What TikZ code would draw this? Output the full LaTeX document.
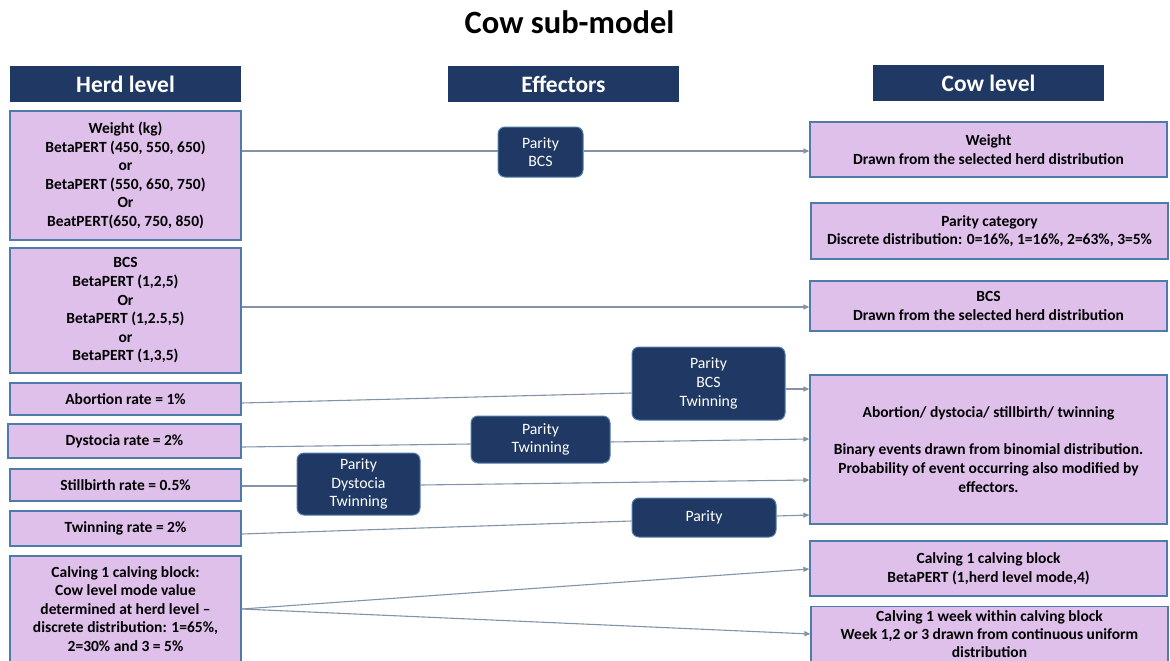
\documentclass[tikz,border=0pt]{standalone}
\usepackage{fontspec}
\setmainfont{Carlito}
\usetikzlibrary{arrows.meta}
\definecolor{navy}{HTML}{203864}
\definecolor{lilac}{HTML}{DEC0EB}
\definecolor{bordc}{HTML}{4F7BAA}
\definecolor{linec}{HTML}{8393A8}
\tikzset{
  hdr/.style={fill=navy, draw=none, text=white, font=\bfseries\fontsize{23.5}{26}\selectfont, inner sep=0pt, minimum width=231pt, minimum height=36pt},
  box/.style={fill=lilac, draw=bordc, line width=1.3pt, align=center, inner sep=0pt, font=\bfseries\fontsize{15.5}{18.6}\selectfont},
  eff/.style={fill=navy, draw=bordc, line width=1pt, rounded corners=7pt, text=white, align=center, inner sep=0pt, font=\fontsize{15.8}{18.6}\selectfont},
  conn/.style={draw=linec, line width=1.1pt},
  arr/.style={conn, -{Triangle[length=6pt,width=5pt]}}
}
\begin{document}
\begin{tikzpicture}[x=1pt,y=-1pt]
\useasboundingbox (0,0) rectangle (1170,661);
\node[font=\bfseries\fontsize{32.5}{36}\selectfont] (title) at (569.5,22) {Cow sub-model};
% headers
\node[hdr] (hh) at (125.5,84) {Herd level};
\node[hdr] (he) at (563.5,84) {Effectors};
\node[hdr] (hc) at (988.5,83) {Cow level};
% herd level boxes
\node[box, minimum width=231pt, minimum height=129pt] (hw) at (125.5,175.5) {Weight (kg)\\BetaPERT (450, 550, 650)\\or\\BetaPERT (550, 650, 750)\\Or\\BeatPERT(650, 750, 850)};
\node[box, minimum width=231pt, minimum height=125pt] (hb) at (125.5,310.5) {BCS\\BetaPERT (1,2,5)\\Or\\BetaPERT (1,2.5,5)\\or\\BetaPERT (1,3,5)};
\node[box, minimum width=231pt, minimum height=32pt] (ha) at (125.5,399) {Abortion rate = 1\%};
\node[box, minimum width=233pt, minimum height=34pt] (hd) at (124.5,441) {Dystocia rate = 2\%};
\node[box, minimum width=231pt, minimum height=32pt] (hs) at (125.5,485) {Stillbirth rate = 0.5\%};
\node[box, minimum width=231pt, minimum height=35pt] (ht) at (125.5,528.5) {Twinning rate = 2\%};
\node[box, minimum width=231pt, minimum height=106pt] (hcv) at (125.5,609) {Calving 1 calving block:\\Cow level mode value\\determined at herd level --\\discrete distribution: 1=65\%,\\2=30\% and 3 = 5\%};
% effectors
\node[eff, minimum width=85pt, minimum height=50pt] (e1) at (540.5,152) {Parity\\BCS};
\node[eff, minimum width=153pt, minimum height=73pt] (e2) at (708.5,383.5) {Parity\\BCS\\Twinning};
\node[eff, minimum width=139pt, minimum height=47pt] (e3) at (540.5,439.5) {Parity\\Twinning};
\node[eff, minimum width=123pt, minimum height=62pt] (e4) at (358.5,484) {Parity\\Dystocia\\Twinning};
\node[eff, minimum width=144pt, minimum height=39pt] (e5) at (704,517.5) {Parity};
% cow level boxes
\node[box, minimum width=357pt, minimum height=55pt] (cw) at (988.5,149.5) {Weight\\Drawn from the selected herd distribution};
\node[box, minimum width=357pt, minimum height=56pt] (cp) at (989.5,231) {Parity category\\Discrete distribution: 0=16\%, 1=16\%, 2=63\%, 3=5\%};
\node[box, minimum width=357pt, minimum height=50pt] (cb) at (988.5,306) {BCS\\Drawn from the selected herd distribution};
\node[box, minimum width=357pt, minimum height=149pt] (ca) at (988.5,449.5) {Abortion/ dystocia/ stillbirth/ twinning\\[18.6pt]Binary events drawn from binomial distribution.\\Probability of event occurring also modified by\\effectors.};
\node[box, minimum width=357pt, minimum height=55pt] (ccb) at (988.5,568.5) {Calving 1 calving block\\BetaPERT (1,herd level mode,4)};
\node[box, minimum width=357pt, minimum height=55pt, anchor=north, font=\bfseries\fontsize{15.5}{18}\selectfont] (ccw) at (989.5,606) {Calving 1 week within calving block\\Week 1,2 or 3 drawn from continuous uniform\\distribution};
% connectors
\draw[conn] (hw.east |- 0,151) -- (e1.west |- 0,151);
\draw[arr] (e1.east |- 0,151) -- (cw.west |- 0,151);
\draw[arr] (hb.east |- 0,307) -- (cb.west |- 0,307);
\draw[conn] (ha.east |- 0,403) -- (e2.west |- 0,393);
\draw[arr] (e2.east |- 0,389) -- (ca.west |- 0,389);
\draw[conn] (hd.east |- 0,447) -- (e3.west |- 0,444);
\draw[arr] (e3.east |- 0,442) -- (ca.west |- 0,439);
\draw[conn] (hs.east |- 0,486) -- (e4.west |- 0,486);
\draw[arr] (e4.east |- 0,485) -- (ca.west |- 0,480);
\draw[conn] (ht.east |- 0,534) -- (e5.west |- 0,521);
\draw[arr] (e5.east |- 0,516) -- (ca.west |- 0,515);
\draw[arr] (hcv.east |- 0,609) -- (ccb.west |- 0,569);
\draw[arr] (hcv.east |- 0,609) -- (ccw.west |- 0,634);
\end{tikzpicture}
\end{document}
